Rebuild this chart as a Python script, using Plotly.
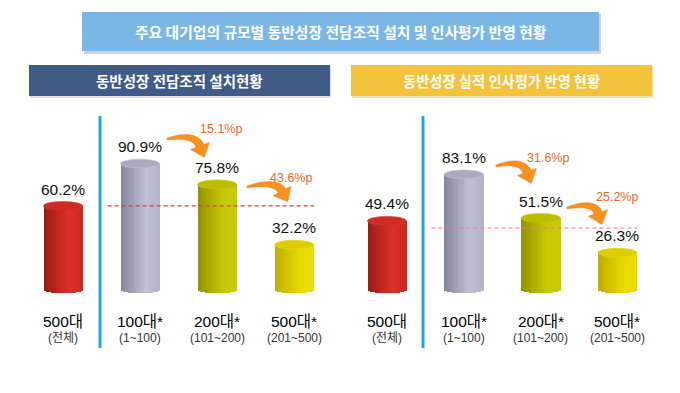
import plotly.graph_objects as go
import numpy as np

# ---------------- data ----------------
categories = ["500대", "100대*", "200대*", "500대*"]
ranges = ["(전체)", "(1~100)", "(101~200)", "(201~500)"]
setup_rate = [60.2, 90.9, 75.8, 32.2]      # 동반성장 전담조직 설치현황 (%)
eval_rate = [49.4, 83.1, 51.5, 26.3]       # 동반성장 실적 인사평가 반영 현황 (%)
setup_ref = 60.2                           # dashed reference line (left)
eval_ref = 44.2                            # dashed reference line (right)
main_title = "주요 대기업의 규모별 동반성장 전담조직 설치 및 인사평가 반영 현황"
left_title = "동반성장 전담조직 설치현황"
right_title = "동반성장 실적 인사평가 반영 현황"

# ---------------- styles ----------------
W, H = 680, 393
NUM = "Liberation Sans, Arial, Noto Sans CJK KR"
KR = "Noto Sans CJK KR, Noto Sans, sans-serif"
# (left, highlight, right edge, top) colours per cylinder
grad = [
    ("#9a1a12", "#dc3228", "#c6281f", "#cd2e24"),
    ("#84849a", "#c0c1d7", "#b2b2c8", "#ababbf"),
    ("#929200", "#c8c800", "#cbcb06", "#bdbd00"),
    ("#bfad00", "#e9da00", "#ecdc02", "#ddcd00"),
]
BW = 0.51       # cylinder width (category units)
EH = 3.2        # ellipse half height (value units)
NS = 16         # stripes for shading


def hex2rgb(h):
    h = h.lstrip("#")
    return np.array([int(h[i:i + 2], 16) for i in (0, 2, 4)], float)


def mix(c1, c2, t):
    c = hex2rgb(c1) * (1 - t) + hex2rgb(c2) * t
    return "rgb(%d,%d,%d)" % tuple(np.round(c))


def stripe_color(g, t):
    if t < 0.65:
        return mix(g[0], g[1], t / 0.65)
    return mix(g[1], g[2], (t - 0.65) / 0.35)


def px2paper(x, y):
    return x / W, 1 - y / H


fig = go.Figure()
shapes = []
annotations = []

panels = [
    (setup_rate, "x", "y", setup_ref, "#e8383a"),
    (eval_rate, "x2", "y2", eval_ref, "#f07a88"),
]
xs = list(range(len(categories)))

for vals, xr, yr, ref, refc in panels:
    for s in range(NS):
        u = -1 + (2 * s + 1) / NS
        t = (u + 1) / 2
        base = -EH * np.sqrt(max(0.0, 1 - u * u))
        fig.add_trace(go.Bar(
            x=xs, y=[v - base for v in vals], base=base,
            width=BW / NS * 1.08, offset=-BW / 2 + s * BW / NS,
            marker=dict(color=[stripe_color(g, t) for g in grad], line=dict(width=0)),
            xaxis=xr, yaxis=yr, showlegend=False, hoverinfo="skip",
        ))
    for i, v in enumerate(vals):
        shapes.append(dict(type="circle", xref=xr, yref=yr,
                           x0=i - BW / 2, x1=i + BW / 2, y0=v - EH, y1=v + EH,
                           fillcolor=grad[i][3], line=dict(color=grad[i][1], width=0.6),
                           layer="above"))
        annotations.append(dict(xref=xr, yref=yr, x=i, y=v + EH, yanchor="bottom",
                                yshift=2, text=f"{v:.1f}%", showarrow=False,
                                font=dict(family=NUM, size=15.5, color="#111")))
        annotations.append(dict(xref=xr, yref="paper", x=i, y=1 - 321 / H, yanchor="middle",
                                text=categories[i], showarrow=False,
                                font=dict(family=NUM, size=15.5, color="#000")))
        annotations.append(dict(xref=xr, yref="paper", x=i, y=1 - 338 / H, yanchor="middle",
                                text=ranges[i], showarrow=False,
                                font=dict(family=NUM, size=12, color="#333")))
    shapes.append(dict(type="line", xref=xr, yref=yr, x0=0.58, x1=3.26, y0=ref, y1=ref,
                       line=dict(color=refc, width=1.2, dash="4px,3px"), layer="above"))

# ---------------- header boxes ----------------
def rect(x0, y0, x1, y1, color):
    a0 = px2paper(x0, y0)
    a1 = px2paper(x1, y1)
    shapes.append(dict(type="rect", xref="paper", yref="paper", x0=a0[0], y0=a0[1],
                       x1=a1[0], y1=a1[1], fillcolor=color, line=dict(width=0), layer="below"))


rect(84, 14, 601, 54, "#d2d2d2")
rect(82, 12, 599, 51, "#7ab7e6")
rect(30, 66, 331, 98, "#dedede")
rect(29, 65, 330, 96, "#3f5b86")
rect(352, 66, 653, 98, "#efe2b8")
rect(351, 65, 652, 96, "#f3c33b")

for text, cx, cy, size in [(main_title, 340.5, 31.5, 14.8),
                           (left_title, 179.5, 80.5, 14.5),
                           (right_title, 501.5, 80.5, 14.3)]:
    px, py = px2paper(cx, cy)
    annotations.append(dict(xref="paper", yref="paper", x=px, y=py, xanchor="center",
                            yanchor="middle", text=f"<b>{text}</b>", showarrow=False,
                            font=dict(family=KR, size=size, color="white")))

# vertical blue separators
for x in (100, 423):
    a0 = px2paper(x, 116)
    a1 = px2paper(x, 348)
    shapes.append(dict(type="line", xref="paper", yref="paper", x0=a0[0], x1=a1[0],
                       y0=a0[1], y1=a1[1], line=dict(color="#22a6e2", width=3)))


# ---------------- curved arrows with differences ----------------
def arrow_path(p0, p1, p2, head_len=12, head_w=20, w0=1.5, w1=8.5):
    p0, p1, p2 = map(lambda p: np.array(p, float), (p0, p1, p2))
    left, right = [], []
    for t in np.linspace(0, 1, 24):
        b = (1 - t) ** 2 * p0 + 2 * (1 - t) * t * p1 + t ** 2 * p2
        d = 2 * (1 - t) * (p1 - p0) + 2 * t * (p2 - p1)
        n = np.array([-d[1], d[0]]) / np.linalg.norm(d)
        hw = (w0 + (w1 - w0) * t ** 0.7) / 2
        left.append(b + n * hw)
        right.append(b - n * hw)
    d = p2 - p1
    d = d / np.linalg.norm(d)
    n = np.array([-d[1], d[0]])
    tip = p2 + d * head_len
    pts = left + [p2 + n * head_w / 2, tip, p2 - n * head_w / 2] + right[::-1]
    pp = [px2paper(*q) for q in pts]
    return "M " + " L ".join(f"{a:.5f},{b:.5f}" for a, b in pp) + " Z"


arrow_defs = [
    # (p0, p1, p2, label centre, values pair)
    ((167, 139), (195, 133), (200, 146), (221, 129), (setup_rate[1], setup_rate[2])),
    ((247, 187), (276, 180), (282, 191), (291, 178), (setup_rate[2], setup_rate[3])),
    ((496, 166), (522, 159), (527, 172), (548, 158), (eval_rate[1], eval_rate[2])),
    ((567, 208), (594, 201), (598, 213), (617, 197), (eval_rate[2], eval_rate[3])),
]
for p0, p1, p2, lc, (a, b) in arrow_defs:
    shapes.append(dict(type="path", xref="paper", yref="paper", path=arrow_path(p0, p1, p2),
                       fillcolor="#f7921e", line=dict(color="#f07d14", width=0.6), layer="above"))
    lx, ly = px2paper(*lc)
    annotations.append(dict(xref="paper", yref="paper", x=lx, y=ly, xanchor="center",
                            yanchor="middle", text=f"{a - b:.1f}%p", showarrow=False,
                            font=dict(family=NUM, size=12.5, color="#f26522")))

axis_common = dict(showgrid=False, zeroline=False, showticklabels=False, showline=False,
                   fixedrange=True)
yrange = [-(H - 289) / 1.38, 289 / 1.38]

fig.update_layout(
    width=W, height=H, margin=dict(l=0, r=0, t=0, b=0),
    paper_bgcolor="white", plot_bgcolor="rgba(0,0,0,0)",
    barmode="overlay", bargap=0,
    xaxis=dict(domain=[16.8 / W, 340.2 / W], range=[-0.6, 3.6], **axis_common),
    xaxis2=dict(domain=[340.8 / W, 663.6 / W], range=[-0.6, 3.6], **axis_common),
    yaxis=dict(domain=[0, 1], range=yrange, **axis_common),
    yaxis2=dict(domain=[0, 1], range=yrange, anchor="x2", **axis_common),
    shapes=shapes, annotations=annotations, showlegend=False,
)

fig.write_html("out.html", config={"displayModeBar": False},
               post_script="document.body.style.margin='0px';")
